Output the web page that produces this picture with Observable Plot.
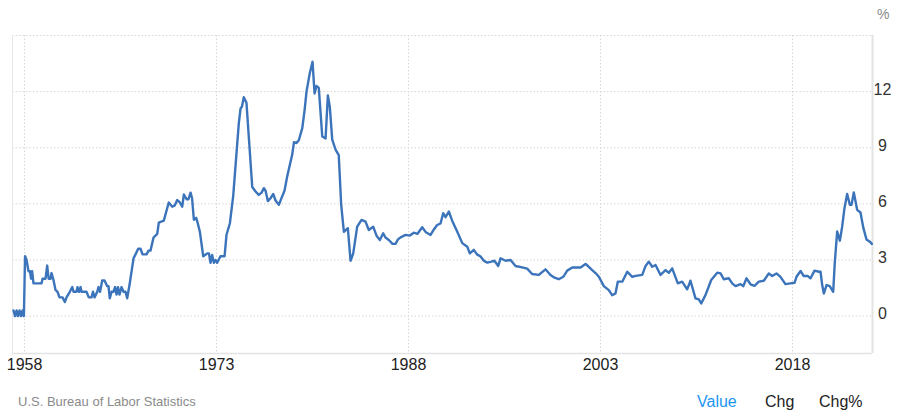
<!DOCTYPE html>
<html>
<head>
<meta charset="utf-8">
<script src="https://cdn.jsdelivr.net/npm/d3@7"></script>
<script src="https://cdn.jsdelivr.net/npm/@observablehq/plot@0.6"></script>
<style>
  html, body { margin: 0; padding: 0; background: #fff; }
  #wrap { position: relative; width: 907px; height: 419px; font-family: "Liberation Sans", Arial, Helvetica, sans-serif; }
  .ft { position: absolute; white-space: nowrap; line-height: 1; }
</style>
</head>
<body>
<div id="wrap"></div>
<script>
// Core inflation rate (YoY, %) — decimal year of each reading and its value
const years = [
  1957.14,1957.26,1957.38,1957.49,1957.61,1957.73,1957.84,1957.95,
  1958.04,1958.16,1958.31,1958.43,1958.51,1958.59,1958.70,1959.33,1959.41,1959.64,1959.77,1959.88,
  1960.03,1960.11,1960.27,1960.42,1960.58,1960.73,1960.97,1961.15,1961.28,1961.54,1961.73,1961.83,
  1962.06,1962.14,1962.26,1962.38,1962.45,1962.84,1963.02,1963.23,1963.35,1963.47,1963.68,1963.78,1963.90,
  1964.07,1964.25,1964.46,1964.56,1964.66,1964.80,1964.95,1965.07,1965.19,1965.30,1965.42,1965.58,1965.73,1965.89,
  1966.02,1966.21,1966.52,1966.67,1966.88,1967.06,1967.22,1967.53,1967.69,1967.84,
  1968.08,1968.37,1968.49,1968.88,1969.27,1969.54,1969.72,1969.93,
  1970.11,1970.32,1970.45,1970.66,1970.81,1970.97,1971.09,1971.23,1971.41,1971.52,1971.70,1971.96,
  1972.27,1972.41,1972.53,1972.66,1972.79,1972.92,1973.05,1973.31,1973.63,1973.78,
  1974.04,1974.30,1974.56,1974.74,1974.88,1974.99,1975.13,1975.34,1975.52,1975.79,
  1976.05,1976.30,1976.52,1976.70,1976.83,1977.01,1977.22,1977.43,1977.61,1977.87,
  1978.13,1978.31,1978.52,1978.70,1978.91,1979.05,1979.25,1979.43,1979.70,1979.88,
  1980.03,1980.29,1980.50,1980.66,1980.81,1980.99,1981.26,1981.52,1981.70,1981.85,
  1982.04,1982.30,1982.55,1982.74,1982.95,1983.26,1983.47,1983.68,1983.99,
  1984.33,1984.64,1984.90,1985.24,1985.50,1985.76,1986.02,1986.20,1986.46,1986.75,1986.98,
  1987.18,1987.38,1987.77,1988.08,1988.41,1988.70,1989.07,1989.33,1989.72,1989.95,
  1990.24,1990.50,1990.71,1990.89,1991.15,1991.41,1991.80,1992.20,1992.59,1992.79,
  1993.10,1993.35,1993.63,1993.90,1994.15,1994.41,1994.71,1995.01,1995.19,1995.58,1995.97,
  1996.36,1996.88,1997.27,1997.66,1998.18,1998.70,1999.09,1999.41,1999.74,
  2000.09,2000.40,2000.79,2001.18,2001.44,2001.83,2002.06,2002.35,2002.61,2002.87,
  2003.26,2003.65,2003.91,2004.17,2004.35,2004.70,2005.09,2005.48,2005.74,
  2006.26,2006.52,2006.77,2007.04,2007.30,2007.69,2008.08,2008.34,2008.60,
  2009.04,2009.38,2009.77,2010.03,2010.42,2010.68,2010.87,2011.20,2011.65,
  2012.12,2012.38,2012.63,2013.02,2013.29,2013.55,2013.94,2014.15,2014.41,2014.72,
  2015.03,2015.37,2015.76,2016.15,2016.41,2016.75,2017.06,2017.45,2017.84,
  2018.16,2018.31,2018.63,2018.88,2019.20,2019.41,2019.72,2020.06,2020.19,2020.32,2020.45,2020.66,2020.91,
  2021.18,2021.30,2021.49,2021.70,2021.88,2022.06,2022.27,2022.48,2022.61,2022.79,
  2023.05,2023.31,2023.54,2023.78,2024.04,2024.20
];
const values = [
  0.3,0.0,0.3,0.0,0.3,0.0,0.3,0.0,
  3.2,3.0,2.4,2.4,2.0,2.4,1.75,1.75,2.0,2.0,2.7,2.0,
  2.0,2.3,1.9,1.4,1.3,1.0,1.0,0.75,1.0,1.3,1.55,1.3,
  1.3,1.55,1.3,1.55,1.3,1.3,1.0,1.0,1.3,1.0,1.3,1.55,1.3,
  1.9,1.9,1.6,1.6,0.95,1.3,1.3,1.55,1.15,1.55,1.15,1.55,1.3,1.3,
  0.95,1.7,3.1,3.3,3.6,3.6,3.3,3.3,3.5,3.5,
  4.2,4.4,5.0,5.1,6.07,5.85,5.9,6.2,
  6.1,5.85,6.5,6.25,6.25,6.6,6.3,5.15,5.25,5.0,4.5,3.2,
  3.35,3.35,2.85,3.27,2.85,3.0,2.85,3.2,3.2,4.35,
  4.95,6.4,8.7,10.3,11.1,11.2,11.7,11.4,9.6,6.9,
  6.66,6.48,6.6,6.84,6.7,6.15,6.3,6.53,6.18,5.95,
  6.4,6.7,7.46,8.0,8.62,9.3,9.25,9.4,10.05,11.0,
  12.0,13.0,13.6,11.9,12.3,12.2,9.6,9.5,11.8,11.2,
  9.43,8.9,8.6,5.95,4.5,4.7,2.96,3.35,4.78,
  5.14,5.05,4.6,4.78,4.3,4.07,4.43,4.2,4.07,3.86,3.86,
  4.1,4.21,4.34,4.3,4.46,4.4,4.75,4.5,4.34,4.6,
  4.87,4.95,5.5,5.29,5.59,5.1,4.52,3.9,3.71,3.35,
  3.54,3.3,3.18,2.95,2.86,2.9,2.96,2.68,3.09,2.96,3.0,
  2.68,2.6,2.54,2.25,2.2,2.5,2.2,2.05,1.97,
  2.1,2.43,2.6,2.6,2.6,2.79,2.65,2.46,2.3,2.1,
  1.6,1.39,1.12,1.21,1.84,1.84,2.37,2.1,2.15,
  2.2,2.68,2.91,2.64,2.73,2.2,2.46,2.32,2.55,
  1.75,1.84,1.43,1.89,0.95,0.89,0.68,1.12,1.93,
  2.32,2.28,1.97,2.02,1.75,1.6,1.71,1.6,2.02,1.7,
  1.62,1.84,1.89,2.28,2.14,2.28,2.1,1.71,1.75,
  1.78,2.1,2.41,2.14,2.14,2.02,2.43,2.37,2.37,1.66,1.21,1.66,1.6,
  1.3,2.82,4.52,4.03,4.78,5.77,6.53,5.95,5.95,6.61,
  5.68,5.54,4.7,4.1,3.98,3.86
];
const xTicks = [1958, 1973, 1988, 2003, 2018];
const yTicks = [0, 3, 6, 9, 12];
const yGrid = [0, 3, 6, 9, 12, 15];
const xDomain = [1957.06, 2024.25];
const yDomain = [-2, 15];
const unitLabel = "%";
const sourceText = "U.S. Bureau of Labor Statistics";
const tabLabels = ["Value", "Chg", "Chg%"];

const data = years.map((y, i) => ({year: y, value: values[i]}));

const chart = Plot.plot({
  width: 907,
  height: 419,
  marginLeft: 12,
  marginRight: 35,
  marginTop: 35,
  marginBottom: 66,
  style: {fontFamily: '"Liberation Sans", Arial, Helvetica, sans-serif', fontSize: "16px", color: "#333", background: "#fff"},
  x: {domain: xDomain, axis: null},
  y: {domain: yDomain, axis: null},
  marks: [
    Plot.gridY(yGrid, {stroke: "#d6d6d6", strokeOpacity: 1, strokeDasharray: "1.5,2"}),
    Plot.gridX(xTicks, {stroke: "#d6d6d6", strokeOpacity: 1, strokeDasharray: "1.5,2"}),
    Plot.ruleX([xDomain[0]], {stroke: "#e6e6e6", strokeWidth: 1}),
    Plot.ruleX([xDomain[1]], {stroke: "#e3e3e3", strokeWidth: 2}),
    Plot.ruleY([yDomain[0]], {stroke: "#e3e3e3", strokeWidth: 1.5}),
    Plot.line(data, {x: "year", y: "value", stroke: "#3b74ba", strokeWidth: 2.4, curve: "linear", strokeLinejoin: "round"}),
    Plot.axisX(xTicks, {anchor: "bottom", tickSize: 0, tickPadding: 5, tickFormat: d => String(d), label: null, fill: "#222", fontSize: 16}),
    Plot.text(yTicks, {x: xDomain[1], y: d => d, dx: 10, dy: -2, text: d => String(d), textAnchor: "middle", fill: "#333", fontSize: 16})
  ]
});

const wrap = document.getElementById("wrap");
wrap.appendChild(chart);

function addText(txt, left, top, size, color) {
  const d = document.createElement("div");
  d.className = "ft";
  d.textContent = txt;
  d.style.left = left + "px";
  d.style.top = top + "px";
  d.style.fontSize = size + "px";
  d.style.color = color;
  wrap.appendChild(d);
}
addText(unitLabel, 877, 7, 14, "#8a8a8a");
addText(sourceText, 18, 395, 13, "#8a8a8a");
addText(tabLabels[0], 697, 394, 16, "#2196f3");
addText(tabLabels[1], 765, 394, 16, "#222");
addText(tabLabels[2], 819, 394, 16, "#222");
</script>
</body>
</html>
